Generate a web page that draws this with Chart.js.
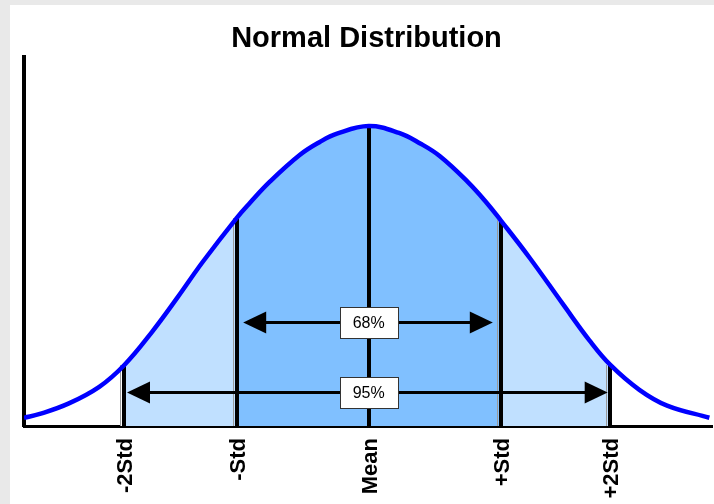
<!DOCTYPE html>
<html><head><meta charset="utf-8">
<script src="https://cdn.jsdelivr.net/npm/chart.js@4"></script>
<style>
html,body{margin:0;padding:0;background:#e9e9e9;width:714px;height:504px;overflow:hidden}
#wrap{position:absolute;left:10px;top:5px;width:704px;height:499px;background:#fff}
canvas{display:block}
</style></head><body>
<div id="wrap"><canvas id="c" width="704" height="499"></canvas></div>
<script>
// Curve readings (x in standard deviations from the mean, y = density)
const curveX = [-2.61,-2.49,-2.27,-2.04,-1.85,-1.64,-1.45,-1.26,-1.00,-0.90,-0.75,-0.52,-0.37,-0.24,0,0.23,0.39,0.54,0.75,0.89,1.00,1.22,1.47,1.67,1.83,2.05,2.26,2.58];
const curveY = [0.011,0.016,0.030,0.052,0.081,0.125,0.170,0.217,0.276,0.296,0.324,0.360,0.377,0.388,0.398,0.389,0.375,0.358,0.324,0.297,0.273,0.223,0.162,0.114,0.081,0.048,0.027,0.011];
const tickValues = [-1.85,-1.00,0,1.00,1.83];
const tickLabels = ['-2Std','-Std','Mean','+Std','+2Std'];
const innerBand = [-1.00, 1.00];
const outerBand = [-1.85, 1.83];
const arrowLabels = ['68%','95%'];
const arrowLevels = [0.1375, 0.0456];
const arrowFrom = [-0.95, -1.83];
const arrowTo = [0.94, 1.81];

const curvePts = curveX.map((x,i)=>({x, y: curveY[i]}));
const bandPts = r => curvePts.filter(p => p.x >= r[0] && p.x <= r[1]);

const deco = {
  id: 'deco',
  beforeDatasetDraw(chart, args) {
    if (args.index !== 0) return;
    const {ctx, scales:{x, y}} = chart;
    ctx.save();
    const base = y.getPixelForValue(0);
    tickValues.forEach(v => {
      const idx = curveX.indexOf(v);
      const top = y.getPixelForValue(curveY[idx]);
      const px = Math.round(x.getPixelForValue(v));
      if (v !== 0) {
        ctx.strokeStyle = '#9a9a9a'; ctx.lineWidth = 1;
        ctx.beginPath(); ctx.moveTo(px - 3.5, top); ctx.lineTo(px - 3.5, base); ctx.stroke();
        ctx.fillStyle = '#ffffff';
        if (v < -1.5) ctx.fillRect(px - 3, top, 2, base - top);
      }
      ctx.strokeStyle = '#000'; ctx.lineWidth = 4;
      ctx.beginPath(); ctx.moveTo(px, top); ctx.lineTo(px, base); ctx.stroke();
    });
    ctx.restore();
  },
  afterDatasetsDraw(chart) {
    const {ctx, scales:{x, y}} = chart;
    ctx.save();
    arrowLabels.forEach((lab, i) => {
      const yy = Math.round(y.getPixelForValue(arrowLevels[i])) + 0.5;
      const x1 = x.getPixelForValue(arrowFrom[i]);
      const x2 = x.getPixelForValue(arrowTo[i]);
      const hl = 23, hh = 11;
      ctx.strokeStyle = '#000'; ctx.lineWidth = 3;
      ctx.beginPath(); ctx.moveTo(x1 + hl - 2, yy); ctx.lineTo(x2 - hl + 2, yy); ctx.stroke();
      ctx.fillStyle = '#000';
      ctx.beginPath(); ctx.moveTo(x1, yy); ctx.lineTo(x1 + hl, yy - hh); ctx.lineTo(x1 + hl, yy + hh); ctx.closePath(); ctx.fill();
      ctx.beginPath(); ctx.moveTo(x2, yy); ctx.lineTo(x2 - hl, yy - hh); ctx.lineTo(x2 - hl, yy + hh); ctx.closePath(); ctx.fill();
      const cx = x.getPixelForValue(0);
      const bw = 58, bh = 31;
      const bx = Math.round(cx - bw / 2) + 0.5, by = Math.round(yy - bh / 2) + 0.5;
      ctx.fillStyle = '#fff'; ctx.fillRect(bx, by, bw, bh);
      ctx.strokeStyle = '#333'; ctx.lineWidth = 1; ctx.strokeRect(bx, by, bw, bh);
      ctx.fillStyle = '#000';
      ctx.font = '16px "Liberation Sans", Arial, sans-serif';
      ctx.textAlign = 'center'; ctx.textBaseline = 'middle';
      ctx.fillText(lab, cx, yy + 1);
    });
    ctx.restore();
  }
};

new Chart(document.getElementById('c'), {
  type: 'line',
  data: {
    datasets: [
      {data: curvePts, borderColor: '#0000ff', borderWidth: 4.5, pointRadius: 0, fill: false, tension: 0.4},
      {data: bandPts(innerBand), borderColor: 'transparent', borderWidth: 0, backgroundColor: '#80c0ff', fill: 'origin', pointRadius: 0, tension: 0.4},
      {data: bandPts(outerBand), borderColor: 'transparent', borderWidth: 0, backgroundColor: '#c0e0ff', fill: 'origin', pointRadius: 0, tension: 0.4}
    ]
  },
  options: {
    responsive: false, animation: false, devicePixelRatio: 1,
    layout: {padding: {top: 8, right: 2, left: 11, bottom: 0}},
    plugins: {
      legend: {display: false},
      tooltip: {enabled: false},
      title: {display: true, text: 'Normal Distribution', color: '#000',
        font: {family: '"Liberation Sans", Arial, sans-serif', size: 29, weight: 'bold'},
        padding: {top: 9, bottom: 0}}
    },
    scales: {
      x: {
        type: 'linear', min: -2.61, max: 2.60, z: 1,
        grid: {display: false, drawTicks: false},
        border: {display: true, color: '#000', width: 3},
        afterBuildTicks: ax => { ax.ticks = tickValues.map(v => ({value: v})); },
        ticks: {autoSkip: false, minRotation: 90, maxRotation: 90, padding: 12, labelOffset: 2, color: '#000',
          font: {family: '"Liberation Sans", Arial, sans-serif', size: 22, weight: 'bold'},
          callback: (v, i) => tickLabels[i]},
        afterFit: s => { s.height = 78; }
      },
      y: {
        min: 0, max: 0.49, z: 1,
        grid: {display: false, drawTicks: false},
        border: {display: true, color: '#000', width: 4},
        ticks: {display: false},
        afterFit: s => { s.width = 3; }
      }
    }
  },
  plugins: [deco]
});
</script>
</body></html>
